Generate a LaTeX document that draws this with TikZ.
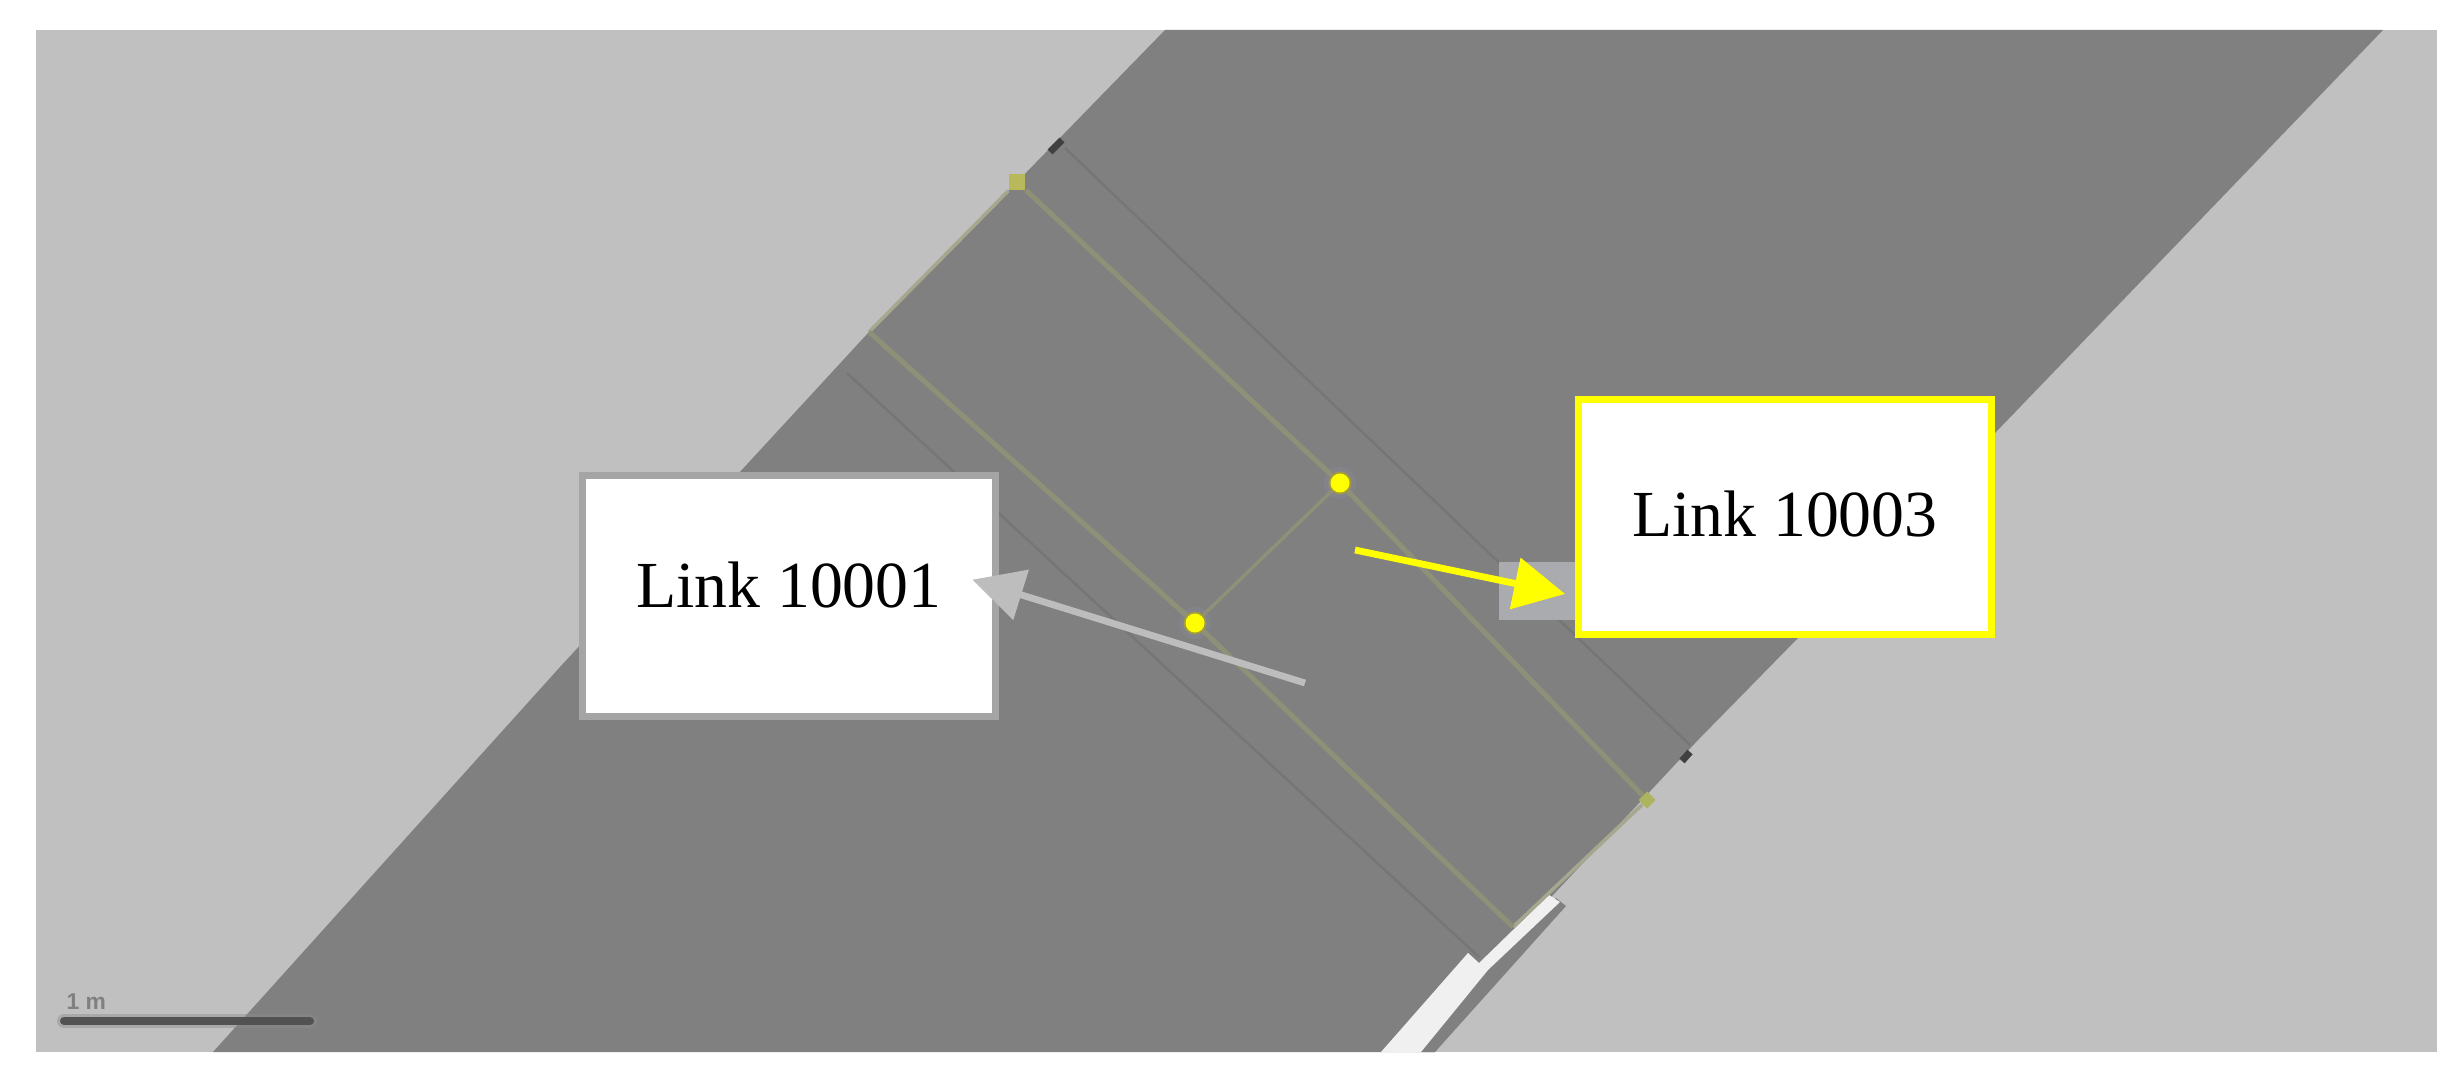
\documentclass[tikz,border=0pt]{standalone}
\usepackage{fontspec}
\setmainfont{Liberation Serif}
\newfontfamily\barfont{Liberation Sans}
\usetikzlibrary{arrows.meta,calc}
\definecolor{verge}{HTML}{C0C0C0}
\definecolor{road}{HTML}{808080}
\definecolor{linkline}{HTML}{8F9078}
\definecolor{edgeline}{HTML}{A6A78E}
\definecolor{thinline}{HTML}{767676}
\definecolor{greyborder}{HTML}{A5A5A5}
\definecolor{greyarrow}{HTML}{BDBDBD}
\definecolor{padgrey}{HTML}{A9ABAE}
\definecolor{pureyellow}{HTML}{FFFF00}
\definecolor{squarea}{HTML}{B8B95A}
\definecolor{squareb}{HTML}{AEB45E}
\definecolor{halo}{HTML}{83838A}
\definecolor{haloinner}{HTML}{A09A40}
\tikzset{
  linkstroke/.style={draw=linkline,line width=0.05cm},
  edgestroke/.style={draw=edgeline,line width=0.035cm},
  thinstroke/.style={draw=thinline,line width=0.025cm},
  markstroke/.style={draw=black!75,line width=0.07cm},
  labelbox/.style={rectangle,fill=white,line width=0.07cm,minimum width=4.13cm,inner sep=0pt,
    font=\fontsize{18.7pt}{22pt}\selectfont},
  calloutarrow/.style={line width=0.068cm,-{Triangle[length=0.51cm,width=0.51cm]}},
  nodedot/.style={circle,fill=pureyellow,minimum size=0.19cm,inner sep=0pt},
  nodehaloinner/.style={circle,fill=haloinner,minimum size=0.23cm,inner sep=0pt},
  nodehalo/.style={circle,fill=halo,minimum size=0.32cm,inner sep=0pt},
  endsquare/.style={rectangle,minimum size=0.16cm,inner sep=0pt}
}
\begin{document}
\begin{tikzpicture}[x=0.01cm,y=-0.01cm]
\useasboundingbox (0,0) rectangle (2457,1079);
\fill[white] (0,0) rectangle (2457,1079);
\begin{scope}
\clip (36,30) rectangle (2437,1052);
\fill[verge] (36,30) rectangle (2437,1052);
\fill[road] (1165,30) -- (1017,182) -- (869,332) -- (560,667) -- (213,1052)
  -- (1435,1052) -- (1553,895) -- (1698,740) -- (1798,638) -- (1995,433) -- (2383,30) -- cycle;
% thin lane lines
\coordinate (c1) at (1065,148); \coordinate (c2) at (1690,745);
\coordinate (d1) at (847,373);  \coordinate (d2) at (1479,957);
\draw[thinstroke] (c1) -- (c2);
\draw[thinstroke] (d1) -- (d2);
% kerb marks
\coordinate (m1) at (1050,152); \coordinate (m2) at (1062,140);
\coordinate (m3) at (1682,761); \coordinate (m4) at (1690,752);
\draw[markstroke] (m1) -- (m2);
\draw[markstroke] (m3) -- (m4);
% kerb strips at the bottom
\fill[road] (1556,898) -- (1566,906) -- (1435,1052) -- (1420,1052) -- cycle;
\fill[white!94!black] (1468,953) -- (1479,963) -- (1549,895) -- (1560,902) -- (1488,970)
  -- (1421,1052) -- (1381,1052) -- cycle;
% small light rectangle behind the yellow callout
\fill[padgrey] (1499,562) rectangle (1600,620);
% link geometry
\node[nodehalo] (ha) at (1340,483) {};
\node[nodehalo] (hb) at (1195,623) {};
\node[endsquare,fill=squarea] (sqa) at (1017,182) {};
\node[endsquare,fill=squareb,rotate=45,minimum size=0.12cm] (sqb) at (1647,800) {};
\coordinate (ta) at (869,332);
\coordinate (tb) at (1513,927);
\draw[edgestroke] (sqa) -- (ta);
\draw[edgestroke] (sqb) -- (tb);
\draw[linkstroke] (sqa) -- (ha.center);
\draw[linkstroke] (ha.center) -- (sqb);
\draw[linkstroke] (ta) -- (hb.center);
\draw[linkstroke] (hb.center) -- (tb);
\draw[linkstroke,line width=0.035cm] (ha.center) -- (hb.center);
\node[nodehaloinner] (ia) at (ha) {};
\node[nodehaloinner] (ib) at (hb) {};
\node[nodedot] (da) at (ha) {};
\node[nodedot] (db) at (hb) {};
% scale bar
\coordinate (s1) at (64,1021); \coordinate (s2) at (310,1021);
\draw[draw=black!45,line width=0.14cm,line cap=round,opacity=0.45] (s1) -- (s2);
\draw[draw=black!68,line width=0.08cm,line cap=round] (s1) -- (s2);
\node[text=black!50,anchor=base west,inner sep=0pt,font=\barfont\bfseries\fontsize{6.5pt}{8pt}\selectfont] (sl) at (66,1009) {1 m};
\end{scope}
% callouts
\node[labelbox,draw=greyborder,minimum height=2.41cm,text depth=0.22cm] (gbox) at (789,596) {Link 10001};
\node[labelbox,draw=pureyellow,minimum height=2.35cm,text depth=0.06cm] (ybox) at (1785,517) {Link 10003};
\coordinate (gtail) at (1305,683);
\coordinate (ytail) at (1355,550);
\draw[calloutarrow,draw=pureyellow,fill=pureyellow,shorten >=0.1cm] (ytail) -- ($(ybox.west)+(0,79)$);
\draw[calloutarrow,draw=greyarrow,fill=greyarrow,shorten >=-0.28cm] (gtail) -- ($(gbox.east)+(0,-8)$);
\end{tikzpicture}
\end{document}
